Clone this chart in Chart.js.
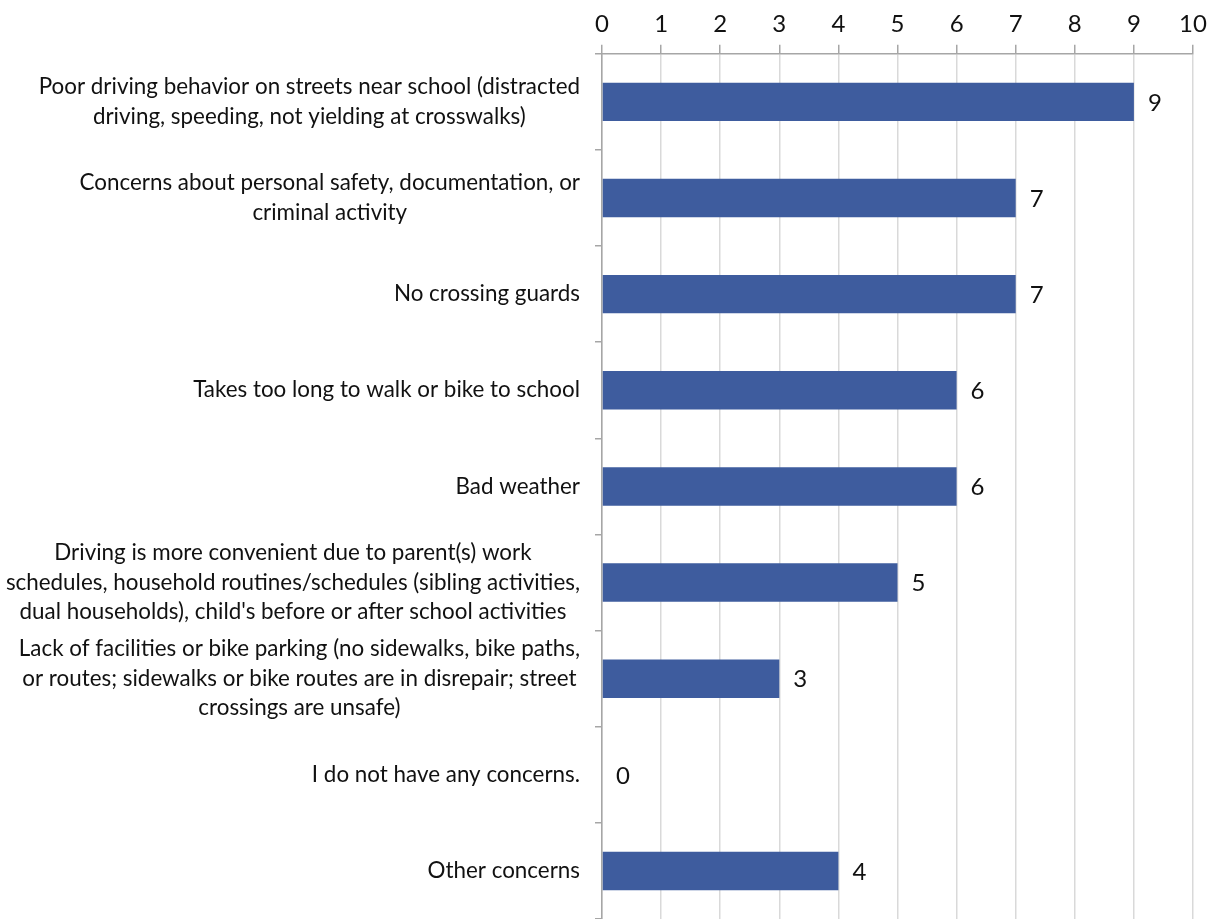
<!DOCTYPE html>
<html>
<head>
<meta charset="utf-8">
<script src="https://cdn.jsdelivr.net/npm/chart.js@4.4.0/dist/chart.umd.min.js"></script>
<style>
  html, body { margin: 0; padding: 0; background: #ffffff; }
  #wrap { width: 1215px; height: 919px; position: relative; }
</style>
</head>
<body>
<div id="wrap"><canvas id="c"></canvas></div>
<script>
const categories = [
  ["Poor driving behavior on streets near school (distracted", "driving, speeding, not yielding at crosswalks)"],
  ["Concerns about personal safety, documentation, or", "criminal activity"],
  ["No crossing guards"],
  ["Takes too long to walk or bike to school"],
  ["Bad weather"],
  ["Driving is more convenient due to parent(s) work", "schedules, household routines/schedules (sibling activities,", "dual households), child's before or after school activities"],
  ["Lack of facilities or bike parking (no sidewalks, bike paths,", "or routes; sidewalks or bike routes are in disrepair; street", "crossings are unsafe)"],
  ["I do not have any concerns."],
  ["Other concerns"]
];
const counts = [9, 7, 7, 6, 6, 5, 3, 0, 4];
const xTicks = [0, 1, 2, 3, 4, 5, 6, 7, 8, 9, 10];

const FONT = "Lato, 'Open Sans', sans-serif";
const TEXT_COLOR = "#111111";

const categoryLabelPlugin = {
  id: 'categoryLabels',
  afterDraw(chart) {
    const ctx = chart.ctx;
    const yScale = chart.scales.y;
    const rightEdge = 580;
    const lineH = 29.5;
    ctx.save();
    ctx.font = "22.4px " + FONT;
    ctx.fillStyle = TEXT_COLOR;
    ctx.textBaseline = 'middle';
    ctx.textAlign = 'center';
    categories.forEach((lines, i) => {
      const yc = yScale.getPixelForValue(i);
      const widest = Math.max(...lines.map(l => ctx.measureText(l).width));
      const cx = rightEdge - widest / 2;
      const top = yc - (lines.length - 1) * lineH / 2;
      lines.forEach((l, j) => ctx.fillText(l, cx, top + j * lineH));
    });
    ctx.restore();
  }
};

const valueLabelPlugin = {
  id: 'valueLabels',
  afterDatasetsDraw(chart) {
    const ctx = chart.ctx;
    const meta = chart.getDatasetMeta(0);
    ctx.save();
    ctx.font = "24px " + FONT;
    ctx.fillStyle = TEXT_COLOR;
    ctx.textBaseline = 'middle';
    ctx.textAlign = 'left';
    meta.data.forEach((bar, i) => {
      ctx.fillText(String(counts[i]), bar.x + 14, bar.y + 1);
    });
    ctx.restore();
  }
};

new Chart(document.getElementById('c'), {
  type: 'bar',
  data: {
    labels: categories.map(l => l.join(' ')),
    datasets: [{
      data: counts,
      backgroundColor: '#3E5C9E',
      borderWidth: 0,
      categoryPercentage: 1.0,
      barPercentage: 0.4
    }]
  },
  options: {
    indexAxis: 'y',
    responsive: true,
    maintainAspectRatio: false,
    animation: false,
    layout: { padding: { left: 595, right: 22, top: 4, bottom: 0 } },
    plugins: {
      legend: { display: false },
      tooltip: { enabled: false }
    },
    scales: {
      x: {
        position: 'top',
        min: 0,
        max: 10,
        afterBuildTicks(scale) { scale.ticks = xTicks.map(v => ({ value: v })); },
        ticks: {
          font: { family: FONT, size: 24 },
          color: TEXT_COLOR,
          padding: 6,
          maxRotation: 0
        },
        grid: {
          color: '#d9d9d9',
          tickColor: '#a6a6a6',
          tickLength: 9,
          lineWidth: 1.5
        },
        border: { display: true, color: '#a6a6a6', width: 1.5 }
      },
      y: {
        type: 'category',
        offset: true,
        ticks: { display: false },
        grid: {
          offset: true,
          drawOnChartArea: false,
          drawTicks: true,
          tickLength: 7,
          tickColor: '#a6a6a6',
          lineWidth: 1.5
        },
        border: { display: true, color: '#a6a6a6', width: 1.5 }
      }
    }
  },
  plugins: [categoryLabelPlugin, valueLabelPlugin]
});
</script>
</body>
</html>
